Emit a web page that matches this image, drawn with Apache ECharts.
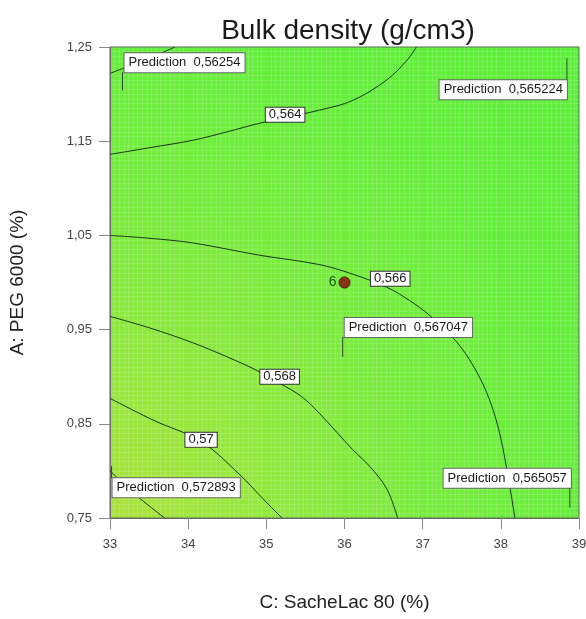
<!DOCTYPE html>
<html>
<head>
<meta charset="utf-8">
<script src="https://cdn.jsdelivr.net/npm/echarts@6/dist/echarts.min.js"></script>
<style>
html,body{margin:0;padding:0;background:#fff;}
#chart{width:586px;height:619px;}
</style>
</head>
<body>
<div id="chart"></div>
<script>
// ---- data ----
const chartTitle = 'Bulk density (g/cm3)';
const xName = 'C: SacheLac 80 (%)';
const yName = 'A: PEG 6000 (%)';
const xTicks = [33, 34, 35, 36, 37, 38, 39];
const yTicks = [0.75, 0.85, 0.95, 1.05, 1.15, 1.25];

const contour0562 = [[33, 1.222], [33.19, 1.228], [33.5, 1.238], [33.83, 1.25]];
const contour0564 = [[33, 1.136], [33.5, 1.143], [34.06, 1.151], [34.5, 1.160], [34.91, 1.169], [35.3, 1.176], [35.68, 1.183], [36.1, 1.193], [36.54, 1.215], [36.8, 1.236], [36.92, 1.25]];
const contour0566 = [[33, 1.050], [33.5, 1.047], [34.06, 1.042], [34.91, 1.029], [35.68, 1.019], [36.1, 1.009], [36.54, 0.995], [36.83, 0.981], [37.09, 0.965], [37.38, 0.942], [37.60, 0.918], [37.82, 0.883], [37.97, 0.845], [38.08, 0.800], [38.18, 0.750]];
const contour0568 = [[33, 0.964], [33.5, 0.952], [34.06, 0.936], [34.5, 0.921], [34.87, 0.907], [35.17, 0.893], [35.45, 0.879], [35.68, 0.861], [36.1, 0.823], [36.32, 0.805], [36.54, 0.781], [36.68, 0.750]];
const contour0570 = [[33, 0.877], [33.55, 0.854], [34.17, 0.831], [34.66, 0.796], [34.95, 0.771], [35.20, 0.750]];
const contour0572 = [[33, 0.800], [33.38, 0.771], [33.70, 0.750]];
const contourLines = [contour0562, contour0564, contour0566, contour0568, contour0570, contour0572];

// contour label points: [x, y, level]
const contourLabels = [[35.24, 1.178, 0.564], [36.585, 1.004, 0.566], [35.17, 0.900, 0.568], [34.165, 0.833, 0.57]];

// design point: [x, y, run count]
const designPoints = [[36, 1.0, 6]];

// prediction flags: [x, y, predicted value]
const predictions = [[33.16, 1.204, 0.56254], [38.845, 1.238, 0.565224], [35.977, 0.921, 0.567047], [33.02, 0.805, 0.572893], [38.883, 0.761, 0.565057]];

// ---- layout / style (not data) ----
const flagLayout = [
  {align: 'left', dy: -18, dx: 2},
  {align: 'right', dy: 22, dx: 0},
  {align: 'left', dy: -20, dx: 2},
  {align: 'left', dy: 12, dx: 1},
  {align: 'right', dy: -20, dx: 1}
];
const fmt = v => String(v).replace('.', ',');
const FONT = 'Liberation Sans, Arial, Helvetica, sans-serif';

const chart = echarts.init(document.getElementById('chart'), null, {renderer: 'canvas'});

const series = [];
contourLines.forEach((pts) => {
  series.push({
    type: 'line', data: pts, smooth: 0.35, showSymbol: false, symbol: 'none',
    lineStyle: {color: '#17361a', width: 1}, z: 3, silent: true, animation: false
  });
});
series.push({
  type: 'scatter', data: contourLabels, symbolSize: 0, z: 5, animation: false, silent: true,
  itemStyle: {opacity: 1},
  label: {
    show: true, position: 'inside', formatter: p => fmt(p.value[2]),
    color: '#1a1a1a', fontSize: 13, fontFamily: FONT,
    backgroundColor: '#ffffff', borderColor: '#333', borderWidth: 1, padding: [1, 3, 0, 3]
  }
});
series.push({
  type: 'scatter', data: designPoints, symbol: 'circle', symbolSize: 11, z: 6, animation: false,
  itemStyle: {color: '#8a3412', borderColor: '#4a1a08', borderWidth: 1, opacity: 1},
  label: {show: true, position: 'left', distance: 2, formatter: p => String(p.value[2]), color: '#1d5c1d', fontSize: 14, fontFamily: FONT}
});
series.push({
  type: 'custom', data: predictions, z: 7, animation: false, silent: true,
  renderItem: function (params, api) {
    const lay = flagLayout[params.dataIndex];
    const pt = api.coord([api.value(0), api.value(1)]);
    const x = pt[0], y = pt[1];
    const ty = y + lay.dy;
    const tx = x + lay.dx;
    return {
      type: 'group',
      children: [
        {type: 'line', shape: {x1: x, y1: y, x2: x, y2: ty}, style: {stroke: '#2a4a2a', lineWidth: 1}},
        {type: 'text', x: tx, y: ty, style: {
          text: 'Prediction  ' + fmt(api.value(2)),
          fill: '#1a1a1a', font: '13px ' + FONT,
          align: lay.align, verticalAlign: lay.dy < 0 ? 'bottom' : 'top',
          backgroundColor: '#fff', borderColor: '#666', borderWidth: 1, padding: [3, 4, 3, 4]
        }}
      ]
    };
  }
});

const bgGrad = new echarts.graphic.RadialGradient(0, 1, 1.35, [
  {offset: 0, color: '#ade23c'},
  {offset: 0.25, color: '#92e83e'},
  {offset: 0.5, color: '#78ec3e'},
  {offset: 0.75, color: '#66ee3c'},
  {offset: 1, color: '#5eef3a'}
]);

chart.setOption({
  backgroundColor: '#fff',
  animation: false,
  title: {
    text: chartTitle, left: 343, top: 12, textAlign: 'center',
    textStyle: {fontSize: 28, fontWeight: 'normal', color: '#1a1a1a', fontFamily: FONT}
  },
  grid: {
    left: 110, right: 7, top: 47, bottom: 101, show: true, outerBoundsMode: 'none', containLabel: false,
    backgroundColor: bgGrad, borderColor: '#5a6a5a', borderWidth: 1
  },
  xAxis: {
    type: 'value', min: xTicks[0], max: xTicks[xTicks.length - 1], interval: 1,
    name: xName, nameLocation: 'middle', nameGap: 75,
    nameTextStyle: {fontSize: 19, color: '#222', fontFamily: FONT},
    axisLine: {show: true, lineStyle: {color: '#6a6a6a'}},
    axisTick: {show: true, length: 11, lineStyle: {color: '#888'}},
    axisLabel: {fontSize: 13, color: '#444', margin: 20, fontFamily: FONT},
    splitLine: {show: false},
    minorTick: {show: false, splitNumber: 17},
    minorSplitLine: {show: true, lineStyle: {color: 'rgba(255,255,255,0.13)', width: 1}}
  },
  yAxis: {
    type: 'value', min: yTicks[0], max: yTicks[yTicks.length - 1], interval: 0.1,
    name: yName, nameLocation: 'middle', nameGap: 83, nameRotate: 90,
    nameTextStyle: {fontSize: 19, color: '#222', fontFamily: FONT},
    axisLine: {show: true, lineStyle: {color: '#6a6a6a'}},
    axisTick: {show: true, length: 11, lineStyle: {color: '#888'}},
    axisLabel: {fontSize: 13, color: '#444', margin: 18, fontFamily: FONT, formatter: v => v.toFixed(2).replace('.', ',')},
    splitLine: {show: false},
    minorTick: {show: false, splitNumber: 20},
    minorSplitLine: {show: true, lineStyle: {color: 'rgba(255,255,255,0.13)', width: 1}}
  },
  series: series
});
</script>
</body>
</html>
